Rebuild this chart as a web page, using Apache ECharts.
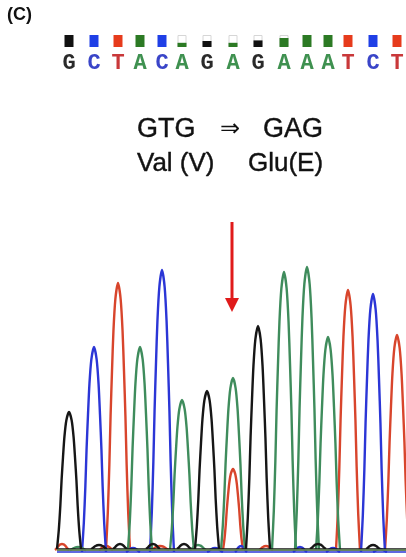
<!DOCTYPE html>
<html>
<head>
<meta charset="utf-8">
<title>Sequencing trace</title>
<script src="https://cdn.jsdelivr.net/npm/echarts@6/dist/echarts.min.js"></script>
<style>html,body{margin:0;padding:0;background:#fff;} #main{width:406px;height:557px;}</style>
</head>
<body>
<div id="main"></div>
<script type="text/javascript">
// base calls and their positions along the trace (scan units)
var calls = ['G','C','T','A','C','A','G','A','G','A','A','A','T','C','T'];
var basePos = [69, 94, 118, 140, 162, 182, 207, 233, 258, 284, 307, 328, 348, 373, 397];
var quality = [1, 1, 1, 1, 1, 0.35, 0.5, 0.35, 0.55, 0.75, 1, 1, 1, 1, 1];
// height of the called peak at each base
var peakHeight = [137, 205, 267, 203, 282, 150, 158, 172, 223, 278, 283, 213, 260, 258, 215];
// second peak under the mutated base: [position, height, half width]
var extraRed = [[233, 81, 10]];
// small baseline bumps: [position, height, half width]
var noiseBlack = [[99, 4, 8], [120, 5, 7], [153, 5, 7], [184, 5, 7], [318, 5, 8], [373, 4, 7]];
var noiseBlue = [[133, 4, 7], [215, 4, 8], [241, 6, 6], [300, 5, 7], [333, 4, 7], [380, 3, 7]];
var noiseRed = [[62, 6, 7], [106, 4, 7], [160, 4, 9], [266, 4, 7]];
var noiseGreen = [[78, 3, 8], [198, 5, 8]];
var traceStart = 57, traceEnd = 406;

var lineColor = { G: '#161616', C: '#2b36d6', T: '#d8452c', A: '#3f8c5c' };
var squareColor = { G: '#111111', C: '#1f3fe6', T: '#e63b1c', A: '#2c7a24' };
var letterColor = { G: '#2a2a2a', C: '#3a45c8', T: '#c9383a', A: '#3f9150' };
var baseOffset = { G: 1, C: -2, T: 0, A: 0 };

// normalised outline of one peak: [offset / half width, fraction of height]
var peakShape = [[-1, 0], [-0.85, 0.14], [-0.72, 0.32], [-0.62, 0.5], [-0.5, 0.67], [-0.38, 0.82],
  [-0.22, 0.94], [0, 1], [0.22, 0.94], [0.38, 0.82], [0.5, 0.67], [0.62, 0.5], [0.72, 0.32],
  [0.85, 0.14], [1, 0]];

var peaks = { G: noiseBlack.slice(), C: noiseBlue.slice(), T: noiseRed.concat(extraRed), A: noiseGreen.slice() };
calls.forEach(function (c, i) {
  peaks[c].push([basePos[i], peakHeight[i], 12]);
});

function peakItem(ch) {
  return function (params, api) {
    var pos = api.value(0), h = api.value(1), hw = api.value(2);
    var pts = peakShape.map(function (p) {
      return api.coord([pos + p[0] * hw, baseOffset[ch] + p[1] * h]);
    });
    return {
      type: 'polyline',
      shape: { points: pts, smooth: 0.25 },
      style: { stroke: lineColor[ch], fill: null, lineWidth: 2.4 }
    };
  };
}

function headerItem(params, api) {
  var i = params.dataIndex;
  var c = calls[i];
  var pos = api.value(0), q = api.value(1);
  var bottom = api.coord([pos, 0]), top = api.coord([pos, 1]), fillTop = api.coord([pos, q]);
  var w = 9;
  var kids = [];
  if (q < 1) {
    kids.push({ type: 'rect', shape: { x: bottom[0] - w / 2 + 0.5, y: top[1] + 0.5, width: w - 1, height: bottom[1] - top[1] - 1 },
      style: { fill: '#fff', stroke: '#d6d6d6', lineWidth: 1 } });
  }
  kids.push({ type: 'rect', shape: { x: bottom[0] - w / 2, y: fillTop[1], width: w, height: bottom[1] - fillTop[1] },
    style: { fill: squareColor[c] } });
  kids.push({ type: 'text', style: { text: c, x: bottom[0], y: bottom[1] + 16, align: 'center', verticalAlign: 'middle',
    font: 'bold 22px "Liberation Mono"', fill: letterColor[c] } });
  return { type: 'group', children: kids };
}

var series = [];
['G', 'C', 'T', 'A'].forEach(function (ch) {
  series.push({
    type: 'line', xAxisIndex: 0, yAxisIndex: 0, symbol: 'none', silent: true,
    data: [[traceStart, baseOffset[ch]], [traceEnd, baseOffset[ch]]],
    lineStyle: { color: lineColor[ch], width: 1.6 }
  });
});
['T', 'C', 'A', 'G'].forEach(function (ch) {
  series.push({
    type: 'custom', xAxisIndex: 0, yAxisIndex: 0, silent: true,
    renderItem: peakItem(ch), encode: { x: 0, y: 1 },
    data: peaks[ch]
  });
});
series.push({
  type: 'custom', xAxisIndex: 1, yAxisIndex: 1, silent: true,
  renderItem: headerItem, encode: { x: 0, y: 1 },
  data: basePos.map(function (p, i) { return [p, quality[i]]; })
});

var myChart = echarts.init(document.getElementById('main'));
var option = {
  animation: false,
  backgroundColor: '#fff',
  grid: [
    { left: 0, right: 0, top: 250, bottom: 0 },
    { left: 0, right: 0, top: 35, height: 12 }
  ],
  xAxis: [
    { type: 'value', gridIndex: 0, min: 0, max: 406, show: false },
    { type: 'value', gridIndex: 1, min: 0, max: 406, show: false }
  ],
  yAxis: [
    { type: 'value', gridIndex: 0, min: -7, max: 300, show: false },
    { type: 'value', gridIndex: 1, min: 0, max: 1, show: false }
  ],
  graphic: [
    { type: 'text', left: 7, top: 6, style: { text: '(C)', font: 'bold 18px "Liberation Sans"', fill: '#111' } },
    { type: 'text', x: 137, y: 130, style: { text: 'GTG', font: '27px "Liberation Sans"', fill: '#111', stroke: '#111', lineWidth: 0.4, verticalAlign: 'middle' } },
    { type: 'text', x: 230, y: 130, style: { text: '\u21D2', font: '24px "DejaVu Sans"', fill: '#111', align: 'center', verticalAlign: 'middle' } },
    { type: 'text', x: 263, y: 130, style: { text: 'GAG', font: '27px "Liberation Sans"', fill: '#111', stroke: '#111', lineWidth: 0.4, verticalAlign: 'middle' } },
    { type: 'text', x: 137, y: 164, style: { text: 'Val (V)', font: '26px "Liberation Sans"', fill: '#111', stroke: '#111', lineWidth: 0.4, verticalAlign: 'middle' } },
    { type: 'text', x: 248, y: 164, style: { text: 'Glu(E)', font: '26px "Liberation Sans"', fill: '#111', stroke: '#111', lineWidth: 0.4, verticalAlign: 'middle' } },
    { type: 'line', shape: { x1: 232, y1: 222, x2: 232, y2: 300 }, style: { stroke: '#e01b1b', lineWidth: 3 } },
    { type: 'polygon', shape: { points: [[225, 298], [239, 298], [232, 312]] }, style: { fill: '#e01b1b' } }
  ],
  series: series
};
myChart.setOption(option);
</script>
</body>
</html>
